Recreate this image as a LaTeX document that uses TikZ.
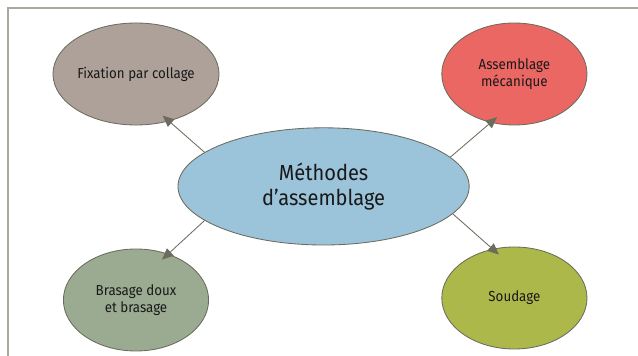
\documentclass[tikz,border=0pt]{standalone}
\usepackage{fontspec}
\setmainfont[FakeStretch=0.92]{Fira Sans}
\usetikzlibrary{shapes.geometric,arrows.meta}

\definecolor{collagegray}{HTML}{ADA199}
\definecolor{mecared}{HTML}{EB6763}
\definecolor{brasagegreen}{HTML}{9AAB91}
\definecolor{soudageolive}{HTML}{ADB84A}
\definecolor{centreblue}{HTML}{9BC3DA}
\definecolor{rimgray}{HTML}{6B6B5E}
\definecolor{framegray}{HTML}{A8A8A0}

\tikzset{
	bulle/.style={ellipse, draw=rimgray, line width=0.6pt, inner sep=0pt, minimum width=3.63cm, minimum height=2.55cm, align=center, text=black!90, font=\fontsize{10.3}{12.3}\selectfont},
	fleche/.style={draw=rimgray, line width=0.6pt, -{Triangle[length=8pt,width=7pt]}, shorten >=-6pt},
}

\begin{document}
\begin{tikzpicture}
		%%%%% START %%%%%
		
		\useasboundingbox (0, 0) rectangle (15.95, -8.9);
		\draw[line width=1pt, color=framegray] (0.2, -8.9) -- (0.2, -0.2) -- (15.95, -0.2);
		
		\node[bulle, fill=centreblue, minimum width=7.28cm, minimum height=2.93cm, font=\fontsize{15.5}{17.8}\selectfont] (centre) at (8.09, -4.66) {Méthodes\\d’assemblage};
		
		\node[bulle, fill=collagegray] (collage) at (3.4, -1.85) {Fixation par collage};
		\node[bulle, fill=mecared] (meca) at (12.86, -1.85) {Assemblage\\mécanique};
		\node[bulle, fill=brasagegreen] (brasage) at (3.4, -7.5) {Brasage doux\\et brasage};
		\node[bulle, fill=soudageolive] (soudage) at (12.86, -7.45) {Soudage};
		
		\draw[fleche] (centre.164) -- (collage.-55);
		\draw[fleche] (centre.13) -- (meca.-116);
		\draw[fleche] (centre.-164) -- (brasage.55);
		\draw[fleche] (centre.-12) -- (soudage.114);
		
		%%%%% END %%%%%
\end{tikzpicture}
\end{document}
